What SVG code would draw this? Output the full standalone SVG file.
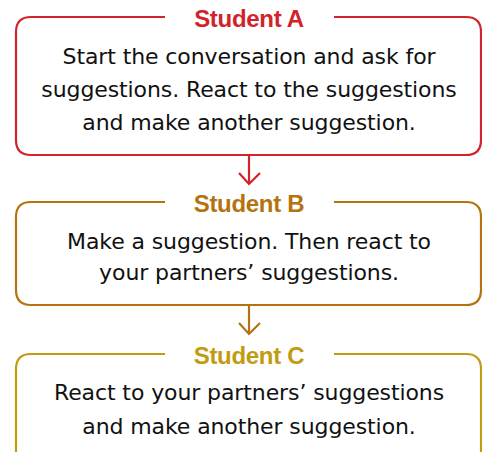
<svg xmlns="http://www.w3.org/2000/svg" width="482" height="452" viewBox="0 0 482 452">
  <style>
    .box { fill: none; stroke-width: 2.2; }
    .title { font-family: "Liberation Sans", Arial, sans-serif; font-weight: bold; font-size: 24px; text-anchor: middle; letter-spacing: -0.3px; }
    .body { font-family: "DejaVu Sans", sans-serif; font-size: 22px; fill: #111111; text-anchor: middle; letter-spacing: -0.1px; }
    .arrow { fill: none; stroke-width: 2.2; stroke-linecap: butt; stroke-linejoin: miter; }
    .a { stroke: #d2232a; }
    .b { stroke: #b5730f; }
    .c { stroke: #c19b10; }
  </style>
  <rect width="482" height="452" fill="#ffffff"/>

  <g id="connectors">
    <path class="arrow a" d="M249 155 V184 M239 173 L249 184 L260 173"/>
    <path class="arrow b" d="M249 305 V334 M239 323 L249 334 L260 323"/>
  </g>

  <g id="studentA">
    <path class="box a" d="M165 17 H31 Q16 17 16 32 V140 Q16 155 31 155 H466 Q481 155 481 140 V32 Q481 17 466 17 H334"/>
    <text class="title" x="249" y="27" fill="#d2232a">Student A</text>
    <text class="body" x="249" y="64">Start the conversation and ask for</text>
    <text class="body" x="249" y="97">suggestions. React to the suggestions</text>
    <text class="body" x="249" y="130">and make another suggestion.</text>
  </g>

  <g id="studentB">
    <path class="box b" d="M165 202 H31 Q16 202 16 217 V290 Q16 305 31 305 H466 Q481 305 481 290 V217 Q481 202 466 202 H334"/>
    <text class="title" x="249" y="212" fill="#b5730f">Student B</text>
    <text class="body" x="249" y="249">Make a suggestion. Then react to</text>
    <text class="body" x="249" y="280">your partners’ suggestions.</text>
  </g>

  <g id="studentC">
    <path class="box c" d="M165 354 H31 Q16 354 16 369 V460 M481 460 V369 Q481 354 466 354 H334"/>
    <text class="title" x="249" y="364" fill="#c19b10">Student C</text>
    <text class="body" x="249" y="400">React to your partners’ suggestions</text>
    <text class="body" x="249" y="434">and make another suggestion.</text>
  </g>
</svg>
